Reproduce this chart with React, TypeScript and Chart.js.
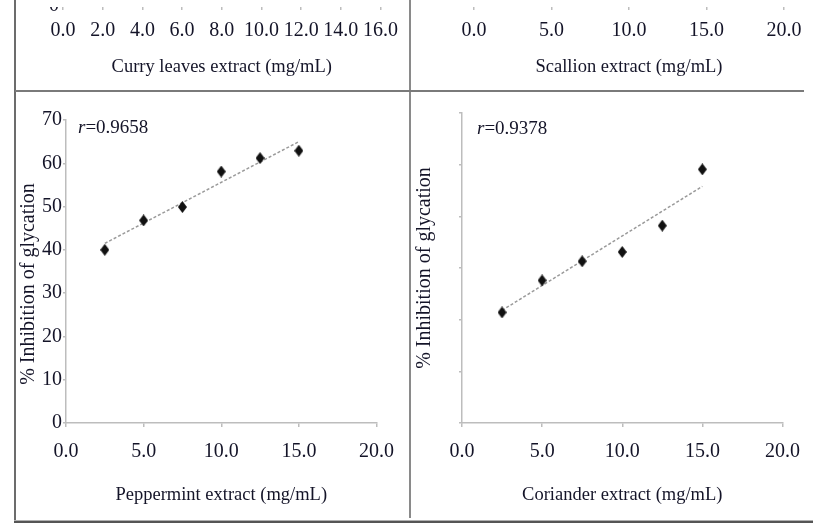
import React, { useEffect, useRef } from 'react';
import { Chart, registerables } from 'chart.js';

Chart.register(...registerables);

// ---- data ----
const concentrations = [2.5, 5.0, 7.5, 10.0, 12.5, 15.0];
const peppermintInhibition = [40.0, 46.8, 49.9, 58.1, 61.2, 62.9];
const corianderInhibition = [21.4, 27.6, 31.3, 33.1, 38.2, 49.1];
const trendEnds = [2.5, 15.0];
const peppermintTrend = [41.5, 65.0];
const corianderTrend = [21.8, 45.8];
const peppermintR = '0.9658';
const corianderR = '0.9378';

const curryXTicks = [0, 2, 4, 6, 8, 10, 12, 14, 16];
const extractXTicks = [0, 5, 10, 15, 20];
const inhibitionTicks70 = [0, 10, 20, 30, 40, 50, 60, 70];
const inhibitionTicks60 = [0, 10, 20, 30, 40, 50, 60];

const curryTitle = 'Curry leaves extract (mg/mL)';
const scallionTitle = 'Scallion extract (mg/mL)';
const peppermintTitle = 'Peppermint extract (mg/mL)';
const corianderTitle = 'Coriander extract (mg/mL)';
const yTitle = '% Inhibition of glycation';

// ---- styles ----
const FONT = "'Liberation Serif', 'Times New Roman', serif";
const TEXT = '#141428';
const AXIS = '#bdbdbd';

const rLabelPlugin = {
  id: 'rLabel',
  afterDatasetsDraw(chart: any, _args: any, opts: any) {
    if (!opts || !opts.value) return;
    const { ctx, chartArea } = chart;
    ctx.save();
    ctx.fillStyle = TEXT;
    ctx.textBaseline = 'middle';
    ctx.textAlign = 'left';
    const x = chartArea.left + opts.dx;
    const y = chartArea.top + opts.dy;
    ctx.font = `italic 19px ${FONT}`;
    ctx.fillText('r', x, y);
    const w = ctx.measureText('r').width;
    ctx.font = `19px ${FONT}`;
    ctx.fillText('=' + opts.value, x + w, y);
    ctx.restore();
  },
};

function makeDiamond(): HTMLCanvasElement {
  const c = document.createElement('canvas');
  c.width = 9;
  c.height = 12;
  const g = c.getContext('2d')!;
  g.fillStyle = '#111';
  g.beginPath();
  g.moveTo(4.5, 0);
  g.lineTo(9, 6);
  g.lineTo(4.5, 12);
  g.lineTo(0, 6);
  g.closePath();
  g.fill();
  return c;
}

interface PanelSpec {
  w: number;
  h: number;
  padRight: number;
  padTop: number;
  xTicks: number[];
  xTitle: string;
  xTickPad: number;
  xTitlePad: number;
  yTicks: number[];
  yLabels: boolean;
  yTitle: string;
  yWidth: number;
  values?: number[];
  trend?: number[];
  r?: string;
  rdx?: number;
  rdy?: number;
}

function buildConfig(p: PanelSpec): any {
  const datasets: any[] = [];
  if (p.values && p.trend) {
    datasets.push({
      label: 'data',
      data: concentrations.map((x, i) => ({ x, y: p.values![i] })),
      pointStyle: makeDiamond(),
      pointRadius: 5,
      backgroundColor: '#111',
      borderColor: '#111',
      showLine: false,
      order: 0,
    });
    datasets.push({
      label: 'trend',
      data: trendEnds.map((x, i) => ({ x, y: p.trend![i] })),
      showLine: true,
      pointRadius: 0,
      borderColor: '#9a9a9a',
      borderWidth: 1.5,
      borderDash: [3, 2],
      fill: false,
      order: 1,
    });
  }
  const xT = p.xTicks;
  const yT = p.yTicks;
  return {
    type: 'scatter',
    data: { datasets },
    options: {
      responsive: false,
      maintainAspectRatio: false,
      animation: false,
      events: [],
      layout: { padding: { left: 0, right: p.padRight, top: p.padTop, bottom: 0 } },
      plugins: {
        legend: { display: false },
        tooltip: { enabled: false },
        title: { display: false },
        rLabel: { value: p.r || '', dx: p.rdx || 0, dy: p.rdy || 0 },
      },
      scales: {
        x: {
          type: 'linear',
          position: 'bottom',
          min: xT[0],
          max: xT[xT.length - 1],
          afterBuildTicks: (s: any) => {
            s.ticks = xT.map((v) => ({ value: v }));
          },
          afterFit: (s: any) => {
            s.height = 96;
          },
          ticks: {
            font: { family: FONT, size: 20 },
            color: TEXT,
            padding: p.xTickPad,
            maxRotation: 0,
            autoSkip: false,
            callback: (v: any) => Number(v).toFixed(1),
          },
          grid: { drawOnChartArea: false, drawTicks: true, tickLength: 4, color: AXIS, lineWidth: 1.5 },
          border: { display: true, color: AXIS, width: 1.5 },
          title: {
            display: true,
            text: p.xTitle,
            font: { family: FONT, size: 18.5 },
            color: TEXT,
            padding: { top: 0, bottom: p.xTitlePad },
          },
        },
        y: {
          type: 'linear',
          position: 'left',
          min: yT[0],
          max: yT[yT.length - 1],
          afterBuildTicks: (s: any) => {
            s.ticks = yT.map((v) => ({ value: v }));
          },
          afterFit: (s: any) => {
            s.width = p.yWidth;
          },
          ticks: {
            display: p.yLabels,
            font: { family: FONT, size: 20 },
            color: TEXT,
            padding: 1,
            autoSkip: false,
          },
          grid: { drawOnChartArea: false, drawTicks: true, tickLength: 3, color: AXIS, lineWidth: 1.5 },
          border: { display: true, color: AXIS, width: 1.5 },
          title: {
            display: true,
            text: p.yTitle,
            font: { family: FONT, size: 20 },
            color: TEXT,
            padding: { top: 0, bottom: 0 },
          },
        },
      },
    },
    plugins: [rLabelPlugin],
  };
}

function ChartCanvas({ spec, left, top }: { spec: PanelSpec; left: number; top: number }) {
  const ref = useRef<HTMLCanvasElement>(null);
  useEffect(() => {
    const chart = new Chart(ref.current as HTMLCanvasElement, buildConfig(spec));
    return () => chart.destroy();
  }, []);
  return (
    <canvas
      ref={ref}
      width={spec.w}
      height={spec.h}
      style={{ position: 'absolute', left, top, width: spec.w, height: spec.h }}
    />
  );
}

const currySpec: PanelSpec = {
  w: 390, h: 424, padRight: 24, padTop: 25,
  xTicks: curryXTicks, xTitle: curryTitle, xTickPad: 9, xTitlePad: 24,
  yTicks: inhibitionTicks70, yLabels: true, yTitle, yWidth: 46,
};
const scallionSpec: PanelSpec = {
  w: 400, h: 424, padRight: 29, padTop: 25,
  xTicks: extractXTicks, xTitle: scallionTitle, xTickPad: 9, xTitlePad: 24,
  yTicks: inhibitionTicks60, yLabels: false, yTitle, yWidth: 61,
};
const peppermintSpec: PanelSpec = {
  w: 390, h: 424, padRight: 20, padTop: 25,
  xTicks: extractXTicks, xTitle: peppermintTitle, xTickPad: 13, xTitlePad: 13.2,
  yTicks: inhibitionTicks70, yLabels: true, yTitle: yTitle + '     ', yWidth: 49,
  values: peppermintInhibition, trend: peppermintTrend, r: peppermintR, rdx: 12, rdy: 8,
};
const corianderSpec: PanelSpec = {
  w: 400, h: 424, padRight: 30, padTop: 18,
  xTicks: extractXTicks, xTitle: corianderTitle, xTickPad: 13, xTitlePad: 13.2,
  yTicks: inhibitionTicks60, yLabels: false, yTitle, yWidth: 49,
  values: corianderInhibition, trend: corianderTrend, r: corianderR, rdx: 15, rdy: 16,
};

function Line({ l, t, w, h, c }: { l: number; t: number; w: number; h: number; c: string }) {
  return <div style={{ position: 'absolute', left: l, top: t, width: w, height: h, background: c }} />;
}

export default function App() {
  return (
    <div
      style={{
        position: 'fixed',
        left: 0,
        top: 0,
        width: 813,
        height: 524,
        background: '#fff',
        overflow: 'hidden',
      }}
    >
      {/* top row: only the bottom of the panels is visible */}
      <div style={{ position: 'absolute', left: 17, top: 7, width: 391, height: 82, overflow: 'hidden' }}>
        <ChartCanvas spec={currySpec} left={0} top={-329} />
      </div>
      <div style={{ position: 'absolute', left: 413, top: 7, width: 400, height: 82, overflow: 'hidden' }}>
        <ChartCanvas spec={scallionSpec} left={0} top={-329} />
      </div>
      {/* bottom row */}
      <ChartCanvas spec={peppermintSpec} left={17} top={95} />
      <ChartCanvas spec={corianderSpec} left={413} top={95} />

      {/* panel frame lines */}
      <Line l={14} t={0} w={2} h={522} c="#6c6c6c" />
      <Line l={409} t={0} w={2} h={518} c="#8a8a8a" />
      <Line l={15} t={90} w={789} h={2} c="#7a7a7a" />
      <Line l={14} t={520} w={799} h={1} c="#b0b0b0" />
      <Line l={14} t={521} w={799} h={2} c="#555555" />
    </div>
  );
}
